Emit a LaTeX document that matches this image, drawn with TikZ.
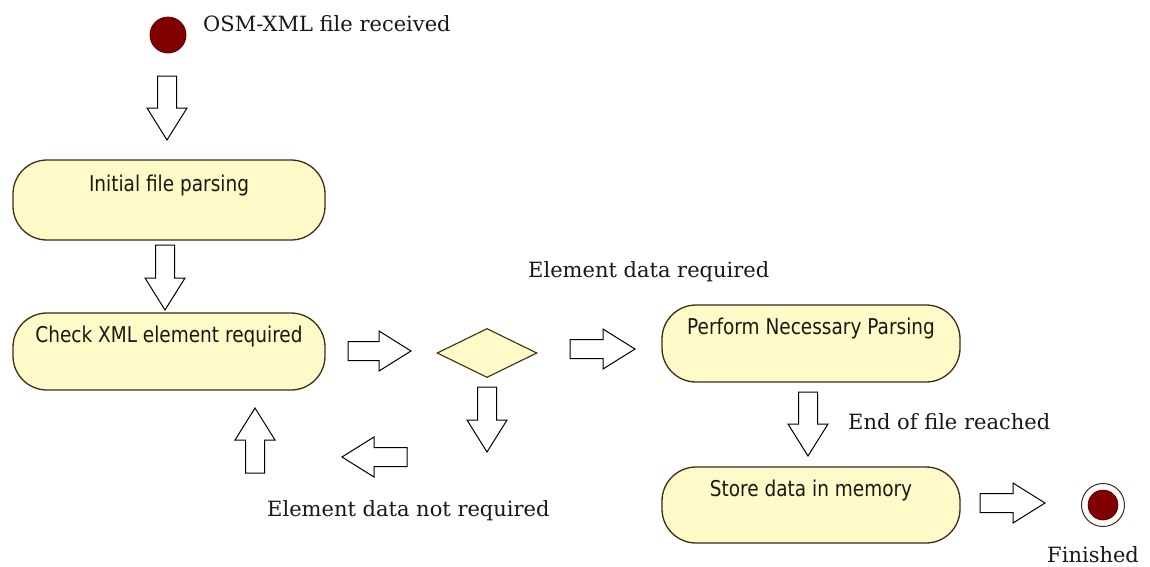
\documentclass[tikz,border=0pt]{standalone}
\usepackage{fontspec}
\usetikzlibrary{calc,shapes.geometric}
\newfontfamily\labelfont{DejaVu Serif}
\newfontfamily\boxfont{DejaVu Sans}[FakeStretch=0.85]
\definecolor{boxfill}{RGB}{255,250,200}
\definecolor{boxedge}{RGB}{60,45,20}
\definecolor{dotred}{RGB}{128,0,0}
\definecolor{dotedge}{RGB}{90,0,0}
\definecolor{txt}{RGB}{25,25,20}
\tikzset{
  stadium/.style={rectangle, rounded corners=34pt, draw=boxedge, fill=boxfill,
    line width=1.3pt, inner sep=0pt, text=txt,
    font=\boxfont\fontsize{21.75pt}{26pt}\selectfont,
    text height=15pt, text depth=33pt},
  lbl/.style={inner sep=0pt, text=txt, font=\labelfont\fontsize{21pt}{25pt}\selectfont},
  blk/.style={draw=black, fill=white, line width=1pt, line join=miter,
    to path={
      ($(\tikztotarget)!32pt!(\tikztostart)$) coordinate (blkhc)
      ($(\tikztostart)!9.5pt!90:(\tikztotarget)$) --
      ($(blkhc)!9.5pt!90:(\tikztotarget)$) --
      ($(blkhc)!20pt!90:(\tikztotarget)$) --
      (\tikztotarget) --
      ($(blkhc)!20pt!-90:(\tikztotarget)$) --
      ($(blkhc)!9.5pt!-90:(\tikztotarget)$) --
      ($(\tikztostart)!9.5pt!-90:(\tikztotarget)$) -- cycle}}
}
\begin{document}
\begin{tikzpicture}[x=1pt,y=-1pt]
\useasboundingbox[fill=white] (0,0) rectangle (1150,566);

% nodes
\node[circle, fill=dotred, draw=dotedge, line width=0.8pt, minimum size=36pt, inner sep=0pt] (start) at (168,35) {};
\node[lbl, anchor=base west] (lstart) at (203,31) {OSM-XML file received};

\node[stadium, minimum width=312pt, minimum height=80pt] (init) at (169,200) {Initial file parsing};
\node[stadium, minimum width=312pt, minimum height=77pt] (check) at (169,351.5) {Check XML element required};
\node[diamond, draw=boxedge, fill=boxfill, line width=1.1pt, minimum width=100pt, minimum height=49pt, inner sep=0pt] (dec) at (487,353) {};
\node[stadium, minimum width=298pt, minimum height=77pt] (perform) at (811,343.5) {Perform Necessary Parsing};
\node[stadium, minimum width=298pt, minimum height=76pt] (store) at (811,505) {Store data in memory};

\node[circle, draw=boxedge, fill=white, line width=1pt, minimum size=43pt, inner sep=0pt] (final) at (1103,505) {};
\node[circle, fill=dotred, draw=dotedge, line width=0.6pt, minimum size=30pt, inner sep=0pt] (finalin) at (final) {};

\node[lbl, anchor=base west] (lreq) at (528,277) {Element data required};
\node[lbl, anchor=base west] (lnotreq) at (267,516) {Element data not required};
\node[lbl, anchor=base west] (leof) at (848,429) {End of file reached};
\node[lbl, anchor=base west] (lfin) at (1047,562) {Finished};

% arrow end points
\coordinate (a1s) at (167,76);  \coordinate (a1e) at (167,140);
\coordinate (a2s) at (165,245); \coordinate (a2e) at (165,310);
\coordinate (aAs) at (348,351); \coordinate (aAe) at (411,351);
\coordinate (aEs) at (570,349); \coordinate (aEe) at (635,349);
\coordinate (aBs) at (487,387); \coordinate (aBe) at (487,452);
\coordinate (aCs) at (407,457); \coordinate (aCe) at (342,457);
\coordinate (aDs) at (255,473); \coordinate (aDe) at (255,408);
\coordinate (aFs) at (808,392); \coordinate (aFe) at (808,456);
\coordinate (aGs) at (980,503); \coordinate (aGe) at (1045,503);

% block arrows
\draw[blk] (a1s) to (a1e);
\draw[blk] (a2s) to (a2e);
\draw[blk] (aAs) to (aAe);
\draw[blk] (aEs) to (aEe);
\draw[blk] (aBs) to (aBe);
\draw[blk] (aCs) to (aCe);
\draw[blk] (aDs) to (aDe);
\draw[blk] (aFs) to (aFe);
\draw[blk] (aGs) to (aGe);
\end{tikzpicture}
\end{document}
